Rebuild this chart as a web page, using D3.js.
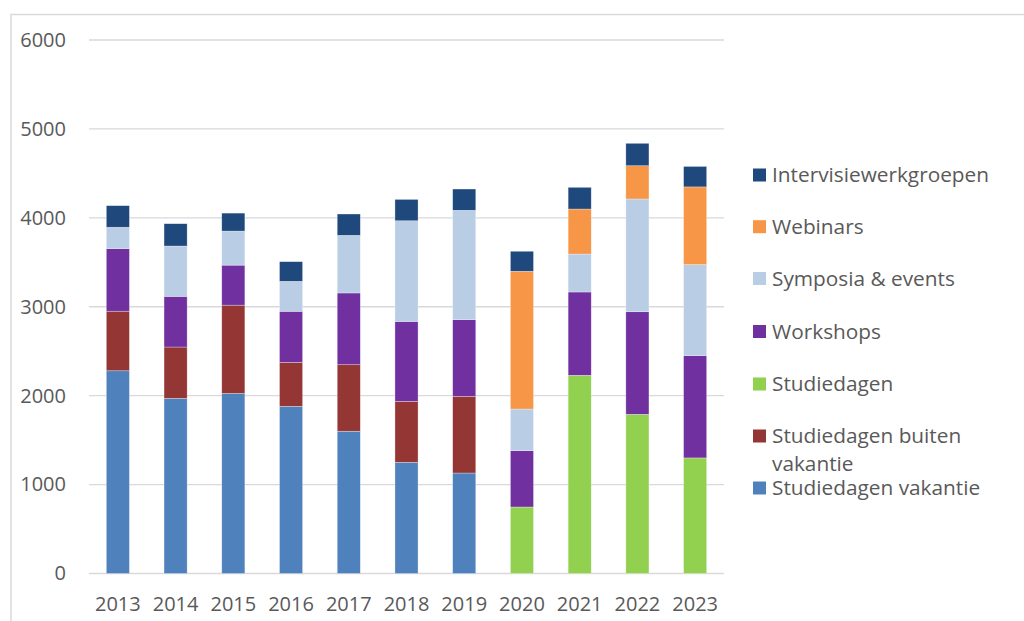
<!DOCTYPE html>
<html><head><meta charset="utf-8">
<script src="https://cdn.jsdelivr.net/npm/d3@7"></script>
<style>html,body{margin:0;padding:0;background:#fff;}svg{display:block;font-family:"Open Sans",sans-serif;}</style>
</head><body>
<svg id="c" width="1024" height="621"></svg>
<script>
const years = ["2013","2014","2015","2016","2017","2018","2019","2020","2021","2022","2023"];
const studiedagenVakantie = [2280,1970,2025,1880,1600,1250,1130,0,0,0,0];
const studiedagenBuiten   = [670,577,993,495,748,686,863,0,0,0,0];
const studiedagen         = [0,0,0,0,0,0,0,748,2229,1790,1300];
const workshops           = [704,570,450,574,807,899,862,633,937,1154,1150];
const symposia            = [240,566,383,337,648,1132,1230,469,427,1268,1024];
const webinars            = [0,0,0,0,0,0,0,1549,506,374,874];
const intervisie          = [243,251,202,221,240,240,239,225,244,252,230];
const yTicks = [0,1000,2000,3000,4000,5000,6000];

const seriesDefs = [
  {name:"Studiedagen vakantie", values:studiedagenVakantie, color:"#4F81BD"},
  {name:"Studiedagen buiten vakantie", values:studiedagenBuiten, color:"#943634"},
  {name:"Studiedagen", values:studiedagen, color:"#92D050"},
  {name:"Workshops", values:workshops, color:"#7030A0"},
  {name:"Symposia & events", values:symposia, color:"#B9CDE5"},
  {name:"Webinars", values:webinars, color:"#F79646"},
  {name:"Intervisiewerkgroepen", values:intervisie, color:"#1F497D"}
];

const rows = years.map((y,i)=>{const r={year:y}; seriesDefs.forEach(s=>r[s.name]=s.values[i]); return r;});
const stack = d3.stack().keys(seriesDefs.map(s=>s.name))(rows);

const svg = d3.select("#c");
svg.append("rect").attr("x",11).attr("y",14.5).attr("width",1100).attr("height",700)
  .attr("fill","none").attr("stroke","#d9d9d9").attr("stroke-width",1.5);

const x = d3.scaleBand().domain(years).range([89,724]).paddingInner(0.6).paddingOuter(0.3);
const y = d3.scaleLinear().domain([0,6000]).range([573.5,40]);

svg.append("g").selectAll("line").data(yTicks).join("line")
  .attr("x1",89).attr("x2",724).attr("y1",d=>y(d)).attr("y2",d=>y(d))
  .attr("stroke","#d9d9d9").attr("stroke-width",1.4);

const yAxis = svg.append("g").attr("transform","translate(66,0)")
  .call(d3.axisLeft(y).tickValues(yTicks).tickSize(0).tickPadding(0).tickFormat(d3.format("d")));
yAxis.select(".domain").remove();
yAxis.selectAll("text").attr("font-size",20).attr("fill","#595959").attr("font-family","Open Sans");

svg.append("g").selectAll("g").data(stack).join("g")
  .attr("fill",(d,i)=>seriesDefs[i].color)
  .selectAll("rect").data(d=>d.filter(p=>p[1]-p[0]>0)).join("rect")
  .attr("x",d=>x(d.data.year)).attr("width",x.bandwidth())
  .attr("y",d=>y(d[1])).attr("height",d=>y(d[0])-y(d[1]))
  .attr("stroke","#ffffff").attr("stroke-opacity",0.5).attr("stroke-width",0.6);

const xAxis = svg.append("g").attr("transform","translate(0,597)")
  .call(d3.axisBottom(x).tickSize(0).tickPadding(0));
xAxis.select(".domain").remove();
xAxis.selectAll("text").attr("font-size",20).attr("fill","#595959").attr("font-family","Open Sans").attr("dy","0.71em");

const legendItems = [
  {name:"Intervisiewerkgroepen", lines:["Intervisiewerkgroepen"], y:175},
  {name:"Webinars", lines:["Webinars"], y:226.7},
  {name:"Symposia & events", lines:["Symposia & events"], y:278.5},
  {name:"Workshops", lines:["Workshops"], y:331.5},
  {name:"Studiedagen", lines:["Studiedagen"], y:384},
  {name:"Studiedagen buiten vakantie", lines:["Studiedagen buiten","vakantie"], y:436},
  {name:"Studiedagen vakantie", lines:["Studiedagen vakantie"], y:488}
];
const colorOf = n=>seriesDefs.find(s=>s.name===n).color;
const lg = svg.append("g").selectAll("g").data(legendItems).join("g");
lg.append("rect").attr("x",753).attr("y",d=>d.y-6.5).attr("width",13).attr("height",13).attr("fill",d=>colorOf(d.name));
lg.each(function(d){
  const t = d3.select(this).append("text").attr("x",772).attr("y",d.y)
    .attr("font-size",20.8).attr("fill","#595959");
  d.lines.forEach((l,i)=>t.append("tspan").attr("x",772).attr("dy", i===0?"0.35em":"28px").text(l));
});
</script>
</body></html>
